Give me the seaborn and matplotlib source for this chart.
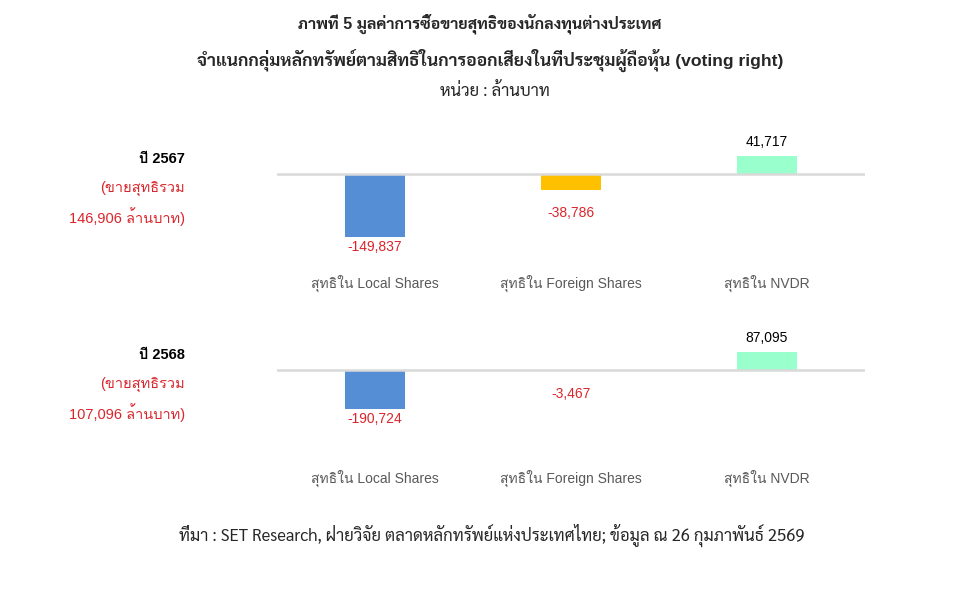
import matplotlib
matplotlib.use("Agg")
import matplotlib.pyplot as plt
import seaborn as sns

# data (ล้านบาท)
categories = ["สุทธิใน Local Shares", "สุทธิใน Foreign Shares", "สุทธิใน NVDR"]
net_2567 = [-149837, -38786, 41717]
net_2568 = [-190724, -3467, 87095]
year_labels = ["ปี 2567", "ปี 2568"]
total_sell = ["146,906", "107,096"]

bar_colors = ["#558ED5", "#FFC000", "#99FFCC"]
red = "#D9262C"
label_font = ["Liberation Sans", "Loma", "DejaVu Sans"]
title_font = ["Liberation Sans", "Sarabun", "DejaVu Sans"]
foot_font = ["Sarabun", "DejaVu Sans"]

sns.set_theme(style="white")
plt.rcParams["font.family"] = label_font

fig = plt.figure(figsize=(9.6, 5.91), dpi=100)
W, H = 960, 591

def px_axes(left, top, right, bottom):
    return fig.add_axes([left / W, 1 - bottom / H, (right - left) / W, (bottom - top) / H])

# (values, axes top px, zero px, axes bottom px, units per px)
panels = [
    (net_2567, 130, 174, 265, 2360),
    (net_2568, 325, 370, 460, 4870),
]

# label offset below the bar end (points) per category
neg_offset = [-7, -16.5, -16.5]

for i, (vals, top, zero, bottom, upp) in enumerate(panels):
    ax = px_axes(277, top, 865, bottom)
    sns.barplot(x=categories, y=vals, hue=categories, palette=bar_colors,
                width=0.31, legend=False, saturation=1, linewidth=0, ax=ax)
    ax.set_ylim(-(bottom - zero) * upp, (zero - top) * upp)
    ax.set_xlim(-0.5, 2.5)
    ax.axhline(0, color="#D9D9D9", lw=1.8, zorder=5)
    for s in ax.spines.values():
        s.set_visible(False)
    ax.set_yticks([])
    ax.set_ylabel("")
    ax.tick_params(axis="x", length=0, pad=7, labelsize=10, labelcolor="#595959")
    for lbl in ax.get_xticklabels():
        lbl.set_family(label_font)
    for j, v in enumerate(vals):
        if v < 0:
            ax.annotate(f"{v:,}", (j, v), xytext=(0, neg_offset[j]), textcoords="offset points",
                        ha="center", va="center", fontsize=10, color=red, family=label_font)
        else:
            ax.annotate(f"{v:,}", (j, v), xytext=(0, 10), textcoords="offset points",
                        ha="center", va="center", fontsize=10, color="black", family=label_font)

    # left side notes
    y0 = [159, 355][i]
    fig.text(185 / W, 1 - y0 / H, year_labels[i], ha="right", va="center",
             fontsize=10.5, fontweight="bold", color="black", family=label_font)
    fig.text(185 / W, 1 - (y0 + 29) / H, "(ขายสุทธิรวม", ha="right", va="center",
             fontsize=10.5, color=red, family=label_font)
    fig.text(185 / W, 1 - (y0 + 58) / H, f"{total_sell[i]} ล้านบาท)", ha="right", va="center",
             fontsize=10.5, color=red, family=label_font)

# titles
fig.text(480 / W, 1 - 24 / H, "ภาพที่ 5 มูลค่าการซื้อขายสุทธิของนักลงทุนต่างประเทศ",
         ha="center", va="center", fontsize=11.5, fontweight="bold", family=title_font)
fig.text(490 / W, 1 - 60 / H, "จำแนกกลุ่มหลักทรัพย์ตามสิทธิในการออกเสียงในที่ประชุมผู้ถือหุ้น (voting right)",
         ha="center", va="center", fontsize=12.6, fontweight="bold", family=title_font)
fig.text(495 / W, 1 - 92 / H, "หน่วย : ล้านบาท",
         ha="center", va="center", fontsize=12, family=foot_font)
fig.text(492 / W, 1 - 535 / H,
         "ที่มา : SET Research, ฝ่ายวิจัย ตลาดหลักทรัพย์แห่งประเทศไทย; ข้อมูล ณ 26 กุมภาพันธ์ 2569",
         ha="center", va="center", fontsize=12, family=foot_font)

fig.savefig("out.png", dpi=100)
